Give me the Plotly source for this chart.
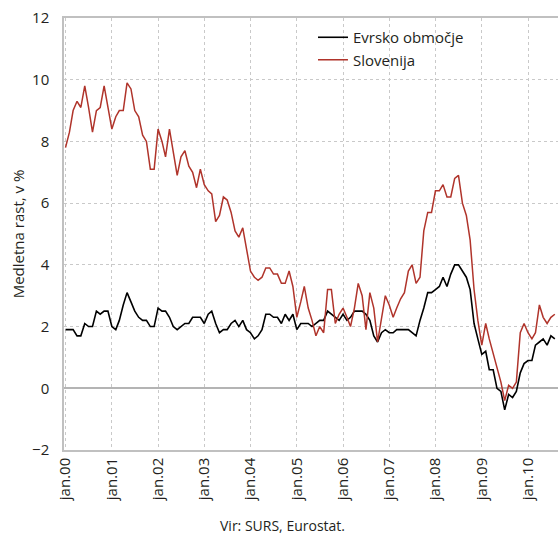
import pandas as pd
import plotly.graph_objects as go

## data (monthly, jan 2000 - avg 2010)
months = pd.date_range("2000-01-01", periods=128, freq="MS")

evro = [
    1.9, 1.9, 1.9, 1.7, 1.7, 2.1, 2.0, 2.0, 2.5, 2.4, 2.5, 2.5,
    2.0, 1.9, 2.2, 2.7, 3.1, 2.8, 2.5, 2.3, 2.2, 2.2, 2.0, 2.0,
    2.6, 2.5, 2.5, 2.3, 2.0, 1.9, 2.0, 2.1, 2.1, 2.3, 2.3, 2.3,
    2.1, 2.4, 2.5, 2.1, 1.8, 1.9, 1.9, 2.1, 2.2, 2.0, 2.2, 1.9,
    1.8, 1.6, 1.7, 1.9, 2.4, 2.4, 2.3, 2.3, 2.1, 2.4, 2.2, 2.4,
    1.9, 2.1, 2.1, 2.1, 2.0, 2.1, 2.2, 2.2, 2.5, 2.4, 2.3, 2.2,
    2.4, 2.2, 2.3, 2.5, 2.5, 2.5, 2.4, 2.2, 1.7, 1.5, 1.8, 1.9,
    1.8, 1.8, 1.9, 1.9, 1.9, 1.9, 1.8, 1.7, 2.2, 2.6, 3.1, 3.1,
    3.2, 3.3, 3.6, 3.3, 3.7, 4.0, 4.0, 3.8, 3.6, 3.2, 2.1, 1.6,
    1.1, 1.2, 0.6, 0.6, 0.0, -0.1, -0.7, -0.2, -0.3, -0.1, 0.5, 0.8,
    0.9, 0.9, 1.4, 1.5, 1.6, 1.4, 1.7, 1.6,
]

slovenija = [
    7.8, 8.3, 9.0, 9.3, 9.1, 9.8, 9.1, 8.3, 9.0, 9.1, 9.8, 9.1,
    8.4, 8.8, 9.0, 9.0, 9.9, 9.7, 9.0, 8.8, 8.2, 8.0, 7.1, 7.1,
    8.4, 8.0, 7.5, 8.4, 7.6, 6.9, 7.5, 7.7, 7.2, 7.0, 6.5, 7.1,
    6.6, 6.4, 6.3, 5.4, 5.6, 6.2, 6.1, 5.7, 5.1, 4.9, 5.2, 4.5,
    3.8, 3.6, 3.5, 3.6, 3.9, 3.9, 3.7, 3.7, 3.4, 3.4, 3.8, 3.3,
    2.3, 2.8, 3.3, 2.6, 2.2, 1.7, 2.0, 1.8, 3.2, 3.2, 2.1, 2.4,
    2.6, 2.3, 2.0, 2.6, 3.4, 3.0, 1.9, 3.1, 2.6, 1.5, 2.2, 3.0,
    2.7, 2.3, 2.6, 2.9, 3.1, 3.8, 4.0, 3.4, 3.6, 5.1, 5.7, 5.7,
    6.4, 6.4, 6.6, 6.2, 6.2, 6.8, 6.9, 6.0, 5.6, 4.8, 3.2, 2.2,
    1.4, 2.1, 1.6, 1.1, 0.7, 0.2, -0.4, 0.1, 0.0, 0.2, 1.8, 2.1,
    1.8, 1.6, 1.8, 2.7, 2.3, 2.1, 2.3, 2.4,
]

tick_dates = pd.date_range("2000-01-01", "2010-01-01", freq="YS")
tick_labels = ["jan.%02d" % (d.year % 100) for d in tick_dates]

font_family = "Open Sans, Noto Sans, sans-serif"
text_color = "#231f20"
grid_color = "#c9c9c9"

fig = go.Figure()
fig.add_trace(go.Scatter(
    x=months, y=evro, name="Evrsko območje", mode="lines",
    line=dict(color="#000000", width=1.6),
))
fig.add_trace(go.Scatter(
    x=months, y=slovenija, name="Slovenija", mode="lines",
    line=dict(color="#b0342b", width=1.5),
))

fig.update_xaxes(
    range=["1999-12-20", "2010-08-26"],
    tickvals=tick_dates,
    ticktext=tick_labels,
    tickangle=-90,
    ticks="",
    showgrid=True,
    gridcolor=grid_color,
    griddash="dot",
    gridwidth=1,
    showline=True,
    linecolor="#c0c0c0",
    linewidth=1.5,
    mirror=True,
    automargin=False,
    tickfont=dict(size=15, color=text_color),
)
fig.update_yaxes(
    range=[-2, 12],
    dtick=2,
    ticks="",
    showgrid=True,
    gridcolor=grid_color,
    griddash="dot",
    gridwidth=1,
    zeroline=True,
    zerolinecolor="#b4b4b4",
    zerolinewidth=2,
    showline=True,
    linecolor="#c0c0c0",
    linewidth=1.5,
    automargin=False,
    ticklabelstandoff=10,
    tickfont=dict(size=15, color=text_color),
    title=dict(text="Medletna rast, v %", font=dict(size=15, color=text_color), standoff=4),
)

fig.update_layout(
    width=558,
    height=538,
    margin=dict(l=64, r=0, t=18, b=88),
    plot_bgcolor="#ffffff",
    paper_bgcolor="#ffffff",
    font=dict(family=font_family, color=text_color),
    showlegend=True,
    legend=dict(
        x=0.504, y=0.993, xanchor="left", yanchor="top",
        bgcolor="rgba(255,255,255,0)",
        font=dict(size=15, color=text_color),
        tracegroupgap=0,
    ),
)

fig.add_annotation(
    text="Vir: SURS, Eurostat.",
    x=0.443, y=0, xref="paper", yref="paper",
    xanchor="center", yanchor="middle",
    yshift=-75,
    showarrow=False,
    font=dict(size=14, color=text_color),
)

# drop the default 8px page margin so the figure fills the window
fig.write_html(
    "out.html",
    config={"displayModeBar": False},
    post_script="document.body.style.margin='0';",
)
